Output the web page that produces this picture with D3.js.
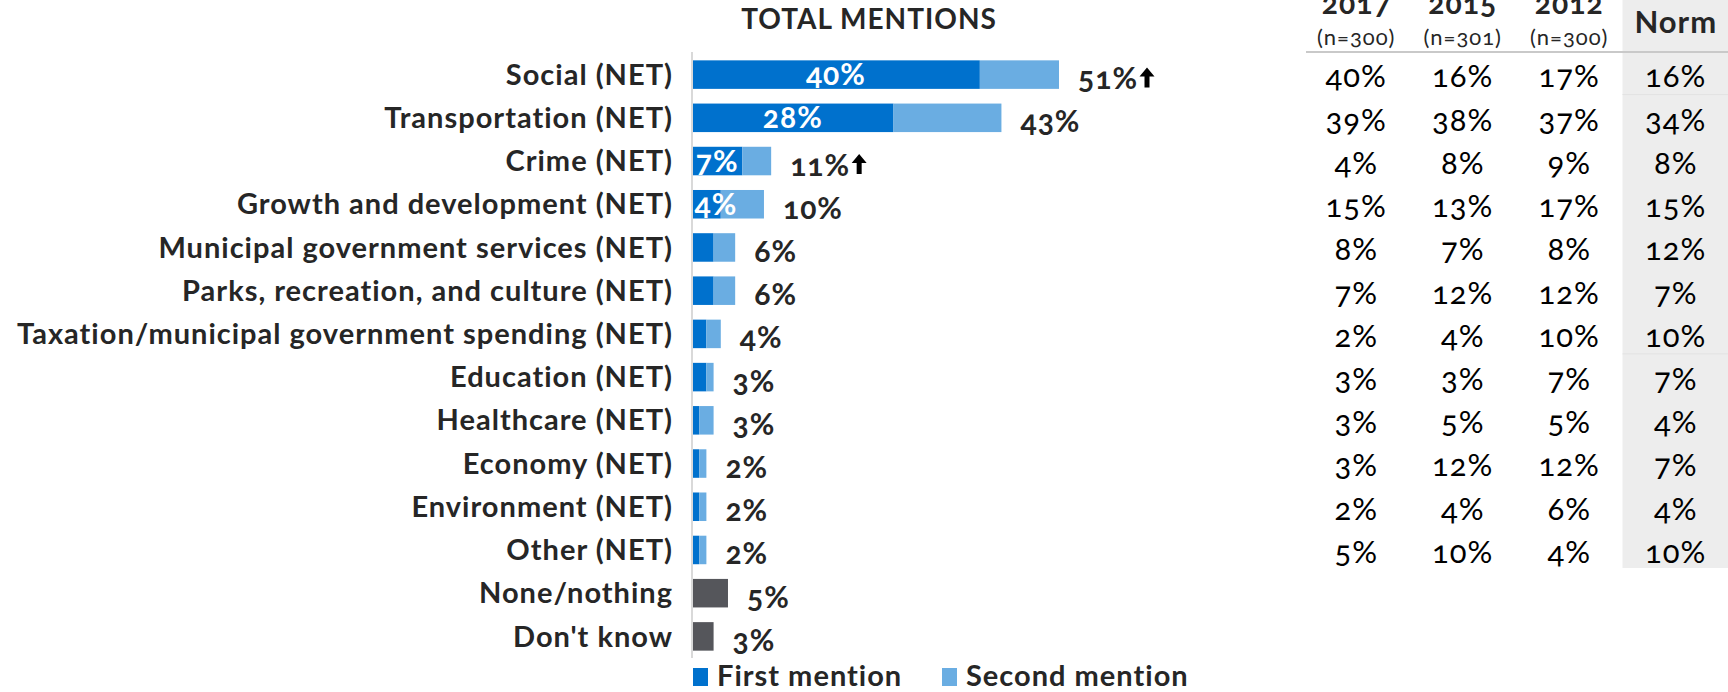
<!DOCTYPE html>
<html>
<head>
<meta charset="utf-8">
<script src="https://cdn.jsdelivr.net/npm/d3@7"></script>
<style>
  body { margin: 0; background: #fff; }
  svg text { font-family: Lato, "Open Sans", sans-serif; font-variant-numeric: oldstyle-nums; }
</style>
</head>
<body>
<script>
var categories = ["Social (NET)", "Transportation (NET)", "Crime (NET)", "Growth and development (NET)",
  "Municipal government services (NET)", "Parks, recreation, and culture (NET)",
  "Taxation/municipal government spending (NET)", "Education (NET)", "Healthcare (NET)",
  "Economy (NET)", "Environment (NET)", "Other (NET)", "None/nothing", "Don't know"];

var firstMention = [40, 28, 7, 4, 3, 3, 2, 2, 1, 1, 1, 1, null, null];
var secondMention = [11, 15, 4, 6, 3, 3, 2, 1, 2, 1, 1, 1, null, null];
var singleValue = [null, null, null, null, null, null, null, null, null, null, null, null, 5, 3];
var totalLabels = ["51%", "43%", "11%", "10%", "6%", "6%", "4%", "3%", "3%", "2%", "2%", "2%", "5%", "3%"];
var sigUp = [true, false, true, false, false, false, false, false, false, false, false, false, false, false];

var tableColumns = ["2017", "2015", "2012", "Norm"];
var tableBases = ["(n=300)", "(n=301)", "(n=300)", ""];
var col2017 = [40, 39, 4, 15, 8, 7, 2, 3, 3, 3, 2, 5];
var col2015 = [16, 38, 8, 13, 7, 12, 4, 3, 5, 12, 4, 10];
var col2012 = [17, 37, 9, 17, 8, 12, 10, 7, 5, 12, 6, 4];
var colNorm = [16, 34, 8, 15, 12, 7, 10, 7, 4, 7, 4, 10];

var w = 1728;
var h = 692;
var axisX = 692;

var svg = d3.select("body").append("svg")
  .attr("width", w)
  .attr("height", h);

var y = d3.scaleBand()
  .domain(categories)
  .range([53, 658])
  .paddingInner(0.34)
  .paddingOuter(0.17);

var x = d3.scaleLinear()
  .domain([0, 51])
  .range([axisX, axisX + 367]);

var dark = "#0071cd";
var light = "#6aade2";
var grey = "#55565b";

// title
svg.append("text")
  .attr("x", 869).attr("y", 29)
  .attr("text-anchor", "middle")
  .attr("font-size", 28).attr("font-weight", "bold")
  .attr("letter-spacing", 1)
  .attr("fill", "#262626")
  .text("TOTAL MENTIONS");

// category labels
svg.append("g").selectAll("text")
  .data(categories)
  .enter().append("text")
  .attr("x", axisX - 19)
  .attr("y", function(d) { return y(d) + y.bandwidth() / 2; })
  .attr("dy", "0.35em")
  .attr("text-anchor", "end")
  .attr("font-size", 29).attr("font-weight", "bold")
  .attr("letter-spacing", 1)
  .attr("fill", "#262626")
  .text(function(d) { return d; });

var rows = categories.map(function(c, i) {
  return {cat: c, first: firstMention[i], second: secondMention[i], single: singleValue[i],
    label: totalLabels[i], up: sigUp[i]};
});

var bars = svg.append("g");

// first mention
bars.selectAll("rect.first")
  .data(rows.filter(function(d) { return d.first != null; }))
  .enter().append("rect")
  .attr("class", "first")
  .attr("x", x(0))
  .attr("y", function(d) { return y(d.cat); })
  .attr("width", function(d) { return x(d.first) - x(0); })
  .attr("height", y.bandwidth())
  .attr("fill", dark);

// second mention
bars.selectAll("rect.second")
  .data(rows.filter(function(d) { return d.second != null; }))
  .enter().append("rect")
  .attr("class", "second")
  .attr("x", function(d) { return x(d.first); })
  .attr("y", function(d) { return y(d.cat); })
  .attr("width", function(d) { return x(d.first + d.second) - x(d.first); })
  .attr("height", y.bandwidth())
  .attr("fill", light);

// none / don't know
bars.selectAll("rect.single")
  .data(rows.filter(function(d) { return d.single != null; }))
  .enter().append("rect")
  .attr("class", "single")
  .attr("x", x(0))
  .attr("y", function(d) { return y(d.cat); })
  .attr("width", function(d) { return x(d.single) - x(0); })
  .attr("height", y.bandwidth())
  .attr("fill", grey);

// axis line
svg.append("line")
  .attr("x1", axisX).attr("x2", axisX)
  .attr("y1", 52).attr("y2", 658)
  .attr("stroke", "#d9d9d9").attr("stroke-width", 2);

// labels inside first mention bars
bars.selectAll("text.inside")
  .data(rows.filter(function(d) { return d.first >= 4; }))
  .enter().append("text")
  .attr("class", "inside")
  .attr("x", function(d) { return Math.max((x(0) + x(d.first)) / 2, x(0) + 24); })
  .attr("y", function(d) { return y(d.cat) + y.bandwidth() / 2; })
  .attr("dy", "0.35em")
  .attr("text-anchor", "middle")
  .attr("font-size", 30).attr("font-weight", "bold")
  .attr("letter-spacing", 1)
  .attr("fill", "#fff")
  .text(function(d) { return d.first + "%"; });

// total labels
var totals = bars.selectAll("g.total")
  .data(rows)
  .enter().append("g")
  .attr("class", "total")
  .attr("transform", function(d) {
    var v = d.single != null ? d.single : d.first + d.second;
    return "translate(" + (x(v) + 19) + "," + (y(d.cat) + y.bandwidth() / 2 + 4) + ")";
  });

totals.append("text")
  .attr("dy", "0.35em")
  .attr("font-size", 30).attr("font-weight", "bold")
  .attr("letter-spacing", 1)
  .attr("fill", "#262626")
  .text(function(d) { return d.label; });

totals.filter(function(d) { return d.up; })
  .append("path")
  .attr("transform", function() {
    var tw = this.parentNode.querySelector("text").getComputedTextLength();
    return "translate(" + (tw + 9) + ",-1)";
  })
  .attr("d", "M0,-10 L-7.5,-1 L-2.5,-1 L-2.5,10 L2.5,10 L2.5,-1 L7.5,-1 Z")
  .attr("fill", "#000");

// legend
var legendItems = [{label: "First mention", color: dark}, {label: "Second mention", color: light}];
var legendX = d3.scaleOrdinal().domain(["First mention", "Second mention"]).range([693, 942]);
var legend = svg.append("g").selectAll("g")
  .data(legendItems)
  .enter().append("g")
  .attr("transform", function(d) { return "translate(" + legendX(d.label) + ",676)"; });
legend.append("rect")
  .attr("x", 0).attr("y", -8)
  .attr("width", 15).attr("height", 18)
  .attr("fill", function(d) { return d.color; });
legend.append("text")
  .attr("x", 24).attr("dy", "0.35em")
  .attr("font-size", 29).attr("font-weight", "bold")
  .attr("letter-spacing", 1)
  .attr("fill", "#262626")
  .text(function(d) { return d.label; });

// table
var tx = d3.scaleBand()
  .domain(tableColumns)
  .range([1303, 1729]);

svg.append("rect")
  .attr("x", tx("Norm")).attr("y", 0)
  .attr("width", tx.bandwidth()).attr("height", 568)
  .attr("fill", "#ededed");

svg.append("line")
  .attr("x1", 1306).attr("x2", 1728)
  .attr("y1", 52).attr("y2", 52)
  .attr("stroke", "#c9c9c9").attr("stroke-width", 2);

var tableRows = categories.slice(0, 12);
[1, 7].forEach(function(i) {
  svg.append("line")
    .attr("x1", tx("Norm")).attr("x2", 1728)
    .attr("y1", y(tableRows[i]) - 9).attr("y2", y(tableRows[i]) - 9)
    .attr("stroke", "#e2e2e2").attr("stroke-width", 1);
});

var headers = svg.append("g").selectAll("g")
  .data(tableColumns)
  .enter().append("g")
  .attr("transform", function(d) { return "translate(" + (tx(d) + tx.bandwidth() / 2) + ",0)"; });

headers.append("text")
  .attr("y", function(d) { return d === "Norm" ? 33 : 14; })
  .attr("text-anchor", "middle")
  .attr("font-size", function(d) { return d === "Norm" ? 31 : 30; })
  .attr("font-weight", "bold")
  .attr("letter-spacing", 1)
  .attr("fill", "#262626")
  .text(function(d) { return d; });

headers.append("text")
  .attr("y", 45)
  .attr("text-anchor", "middle")
  .attr("font-size", 22)
  .attr("letter-spacing", 1)
  .attr("fill", "#262626")
  .text(function(d, i) { return tableBases[i]; });

var tableCols = [col2017, col2015, col2012, colNorm];
tableCols.forEach(function(col, j) {
  svg.append("g").selectAll("text")
    .data(col)
    .enter().append("text")
    .attr("x", tx(tableColumns[j]) + tx.bandwidth() / 2)
    .attr("y", function(d, i) { return y(tableRows[i]) + y.bandwidth() / 2 + 2; })
    .attr("dy", "0.35em")
    .attr("text-anchor", "middle")
    .attr("font-size", 31)
    .attr("letter-spacing", 1)
    .attr("fill", "#000")
    .text(function(d) { return d + "%"; });
});
</script>
</body>
</html>
